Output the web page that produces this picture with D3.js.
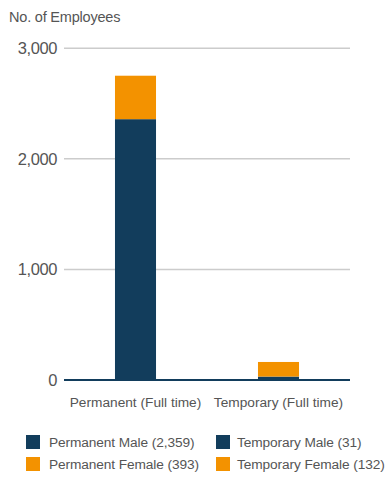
<!DOCTYPE html>
<html><head><meta charset="utf-8">
<script src="https://cdn.jsdelivr.net/npm/d3@7"></script>
<style>
html,body{margin:0;padding:0;background:#fff;}
svg text{font-family:"Liberation Sans",Arial,sans-serif;fill:#555;}
</style></head>
<body><svg id="c" width="388" height="477"></svg>
<script>
const categories = ["Permanent (Full time)", "Temporary (Full time)"];
const maleValues = [2359, 31];
const femaleValues = [393, 132];
const yTicks = [0, 1000, 2000, 3000];
const legendLabels = ["Permanent Male (2,359)", "Permanent Female (393)", "Temporary Male (31)", "Temporary Female (132)"];
const yTitle = "No. of Employees";

const navy = "#123d5c", orange = "#f39200";
const svg = d3.select("#c");
const x = d3.scaleBand().domain(categories).range([64, 350]).paddingInner(0.713).paddingOuter(0.3565);
const y = d3.scaleLinear().domain([0, 3000]).range([380, 48.3]);

svg.append("text").attr("x", 9).attr("y", 22).attr("font-size", 14.5).style("letter-spacing","-0.2px").text(yTitle);

const yAxis = d3.axisLeft(y).tickValues(yTicks).tickSize(0).tickPadding(7).tickFormat(d3.format(","));
const ga = svg.append("g").attr("transform", "translate(64,0)").call(yAxis);
ga.select(".domain").remove();
ga.selectAll("text").attr("font-size", 16.5).style("fill","#555").style("font-family","Liberation Sans, Arial, sans-serif").style("letter-spacing","-0.4px");
svg.append("g").selectAll("line").data(yTicks.filter(d => d > 0)).join("line")
  .attr("x1", 64).attr("x2", 350).attr("y1", d => y(d)).attr("y2", d => y(d))
  .attr("stroke", "#cccccc").attr("stroke-width", 1.5);

const data = categories.map((c, i) => ({c, m: maleValues[i], f: femaleValues[i]}));
svg.append("g").selectAll("rect").data(data).join("rect")
  .attr("x", d => x(d.c)).attr("width", x.bandwidth())
  .attr("y", d => y(d.m)).attr("height", d => y(0) - y(d.m)).attr("fill", navy);
svg.append("g").selectAll("rect").data(data).join("rect")
  .attr("x", d => x(d.c)).attr("width", x.bandwidth())
  .attr("y", d => y(d.m + d.f)).attr("height", d => y(d.m) - y(d.m + d.f)).attr("fill", orange);

svg.append("line").attr("x1", 64).attr("x2", 350).attr("y1", y(0)).attr("y2", y(0))
  .attr("stroke", navy).attr("stroke-width", 2.2);

const xAxis = d3.axisBottom(x).tickSize(0).tickPadding(17);
const gx = svg.append("g").attr("transform", `translate(0,${y(0)})`).call(xAxis);
gx.select(".domain").remove();
gx.selectAll("text").attr("font-size", 13.7).style("fill","#555").style("font-family","Liberation Sans, Arial, sans-serif");

const legendColors = [navy, orange, navy, orange];
const lx = [26, 26, 216, 216], ly = [435, 457, 435, 457], tx = [23, 23, 21, 21];
const lg = svg.append("g").selectAll("g").data(legendLabels).join("g")
  .attr("transform", (d, i) => `translate(${lx[i]},${ly[i]})`);
lg.append("rect").attr("width", 14).attr("height", 14).attr("fill", (d, i) => legendColors[i]);
lg.append("text").attr("x", (d, i) => tx[i]).attr("y", 12).attr("font-size", 13.7)
  .style("letter-spacing", "-0.1px").text(d => d);
</script></body></html>
